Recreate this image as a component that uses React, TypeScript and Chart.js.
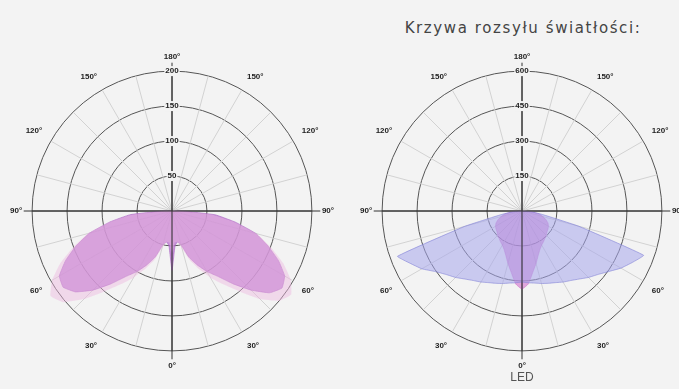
import React, { useEffect, useRef } from 'react';
import { Chart, registerables } from 'chart.js';

Chart.register(...registerables);

// Angle step of the data (degrees from nadir)
const STEP = 5;
// gamma = 0,5,...,90 (index = gamma / 5)
// Left diagram (0-200 cd scale)
const leftMainC0 = [85, 50, 45, 50, 70, 85, 100, 114, 136, 160, 182, 192, 186, 168, 146, 124, 92, 62, 14];
const leftMainC180 = [85, 50, 45, 50, 70, 85, 100, 114, 136, 160, 180, 190, 186, 168, 146, 122, 90, 60, 14];
const leftHaloC0 = [60, 45, 45, 55, 75, 92, 110, 128, 150, 178, 200, 208, 196, 175, 150, 125, 90, 55, 10];
const leftHaloC180 = [60, 45, 45, 55, 75, 92, 110, 128, 150, 178, 203, 212, 198, 176, 150, 125, 90, 55, 10];
// Right diagram (0-600 cd scale)
const rightBlueC0 = [305, 309, 314, 322, 330, 339, 352, 364, 381, 403, 424, 453, 490, 522, 555, 250, 93, 42, 0];
const rightBlueC180 = [305, 309, 314, 322, 330, 339, 352, 364, 381, 403, 424, 453, 496, 530, 568, 254, 93, 42, 0];
const rightPinkC0 = [335, 314, 267, 233, 203, 182, 169, 161, 153, 148, 140, 136, 131, 123, 110, 93, 76, 42, 0];
const rightPinkC180 = [335, 314, 267, 233, 203, 182, 169, 161, 153, 148, 140, 136, 131, 123, 110, 93, 76, 42, 0];

// Angle labels clockwise from the top, every 30°
const angleTickLabels = ['180°', '150°', '120°', '90°', '60°', '30°', '0°', '30°', '60°', '90°', '120°', '150°'];
const leftRings = [50, 100, 150, 200];
const rightRings = [150, 300, 450, 600];

const TITLE = 'Krzywa rozsyłu światłości:';
const SUBTITLE = 'LED';

const BG = '#f3f3f3';
const N = 360 / STEP;

function buildLabels(): string[] {
  const out: string[] = [];
  for (let i = 0; i < N; i++) {
    const deg = i * STEP;
    out.push(deg % 30 === 0 ? angleTickLabels[deg / 30] : '');
  }
  return out;
}

function buildPolar(c0: number[], c180: number[]): number[] {
  const out: number[] = [];
  for (let i = 0; i < N; i++) {
    const theta = i * STEP;
    if (theta >= 90 && theta <= 180) out.push(c0[(180 - theta) / STEP]);
    else if (theta > 180 && theta <= 270) out.push(c180[(theta - 180) / STEP]);
    else out.push(0);
  }
  return out;
}

const axisExtend = {
  id: 'axisExtend',
  afterDatasetsDraw(chart: any) {
    const s = chart.scales.r;
    const ctx = chart.ctx;
    const ext = s.max * 1.06;
    ctx.save();
    ctx.strokeStyle = '#333';
    ctx.lineWidth = 1;
    [0, N / 2, N / 4, (3 * N) / 4].forEach((idx: number) => {
      const p = s.getPointPositionForValue(idx, ext);
      ctx.beginPath();
      ctx.moveTo(s.xCenter, s.yCenter);
      ctx.lineTo(p.x, p.y);
      ctx.stroke();
    });
    ctx.restore();
  },
};

function makeConfig(rings: number[], datasets: any[]): any {
  return {
    type: 'radar',
    data: { labels: buildLabels(), datasets },
    options: {
      animation: false,
      responsive: false,
      devicePixelRatio: 1,
      layout: { padding: 10 },
      plugins: { legend: { display: false }, tooltip: { enabled: false } },
      elements: { point: { radius: 0, hoverRadius: 0 }, line: { tension: 0.1 } },
      scales: {
        r: {
          min: 0,
          max: rings[rings.length - 1],
          beginAtZero: true,
          ticks: {
            stepSize: rings[1] - rings[0],
            color: '#222',
            font: { family: 'Liberation Sans, Arial, sans-serif', size: 8, weight: 'bold' },
            showLabelBackdrop: true,
            backdropColor: BG,
            backdropPadding: 1,
            z: 1,
          },
          grid: { circular: true, color: '#555', lineWidth: 1 },
          angleLines: {
            display: true,
            color: (ctx: any) => {
              const deg = ctx.index * STEP;
              if (deg % 90 === 0) return '#333';
              if (deg % 15 === 0) return '#d2d2d2';
              return 'rgba(0,0,0,0)';
            },
            lineWidth: 1,
          },
          pointLabels: {
            display: true,
            color: '#222',
            padding: 5,
            font: { family: 'Liberation Sans, Arial, sans-serif', size: 8, weight: 'bold' },
          },
        },
      },
    },
    plugins: [axisExtend],
  };
}

function PolarChart({ rings, datasets, style }: { rings: number[]; datasets: any[]; style: any }) {
  const ref = useRef<HTMLCanvasElement | null>(null);
  useEffect(() => {
    if (!ref.current) return;
    const chart = new Chart(ref.current, makeConfig(rings, datasets));
    return () => chart.destroy();
  }, []);
  return <canvas ref={ref} width={344} height={344} style={{ position: 'absolute', ...style }} />;
}

export default function App() {
  const leftSets = [
    {
      data: buildPolar(leftHaloC0, leftHaloC180),
      backgroundColor: 'rgba(238,185,225,0.45)',
      borderWidth: 0,
      fill: true,
    },
    {
      data: buildPolar(leftMainC0, leftMainC180),
      backgroundColor: 'rgba(185,115,208,0.78)',
      borderColor: 'rgba(170,100,195,0.6)',
      borderWidth: 1,
      fill: true,
    },
  ];
  const rightSets = [
    {
      data: buildPolar(rightBlueC0, rightBlueC180),
      backgroundColor: 'rgba(165,165,235,0.55)',
      borderColor: 'rgba(130,130,215,0.6)',
      borderWidth: 1,
      fill: true,
    },
    {
      data: buildPolar(rightPinkC0, rightPinkC180),
      backgroundColor: 'rgba(205,100,200,0.55)',
      borderColor: 'rgba(200,90,190,0.4)',
      borderWidth: 1,
      fill: true,
    },
  ];
  return (
    <div style={{ position: 'fixed', left: 0, top: 0, width: 679, height: 389, background: BG, overflow: 'hidden' }}>
      <div
        style={{
          position: 'absolute',
          left: 373,
          width: 300,
          top: 19,
          textAlign: 'center',
          fontFamily: 'DejaVu Sans, sans-serif',
          fontSize: 15,
          letterSpacing: 1.6,
          color: '#444',
        }}
      >
        {TITLE}
      </div>
      <PolarChart rings={leftRings} datasets={leftSets} style={{ left: 0, top: 40 }} />
      <PolarChart rings={rightRings} datasets={rightSets} style={{ left: 350, top: 40 }} />
      <div
        style={{
          position: 'absolute',
          left: 482,
          width: 80,
          top: 370,
          textAlign: 'center',
          fontFamily: 'Liberation Sans, Arial, sans-serif',
          fontSize: 12,
          color: '#555',
        }}
      >
        {SUBTITLE}
      </div>
    </div>
  );
}
